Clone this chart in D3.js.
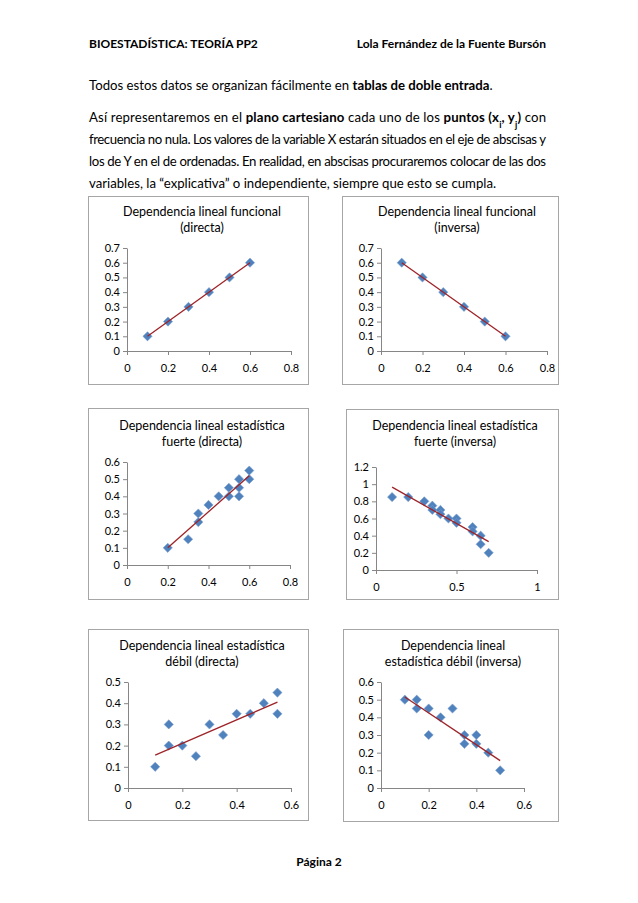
<!DOCTYPE html>
<html>
<head>
<meta charset="utf-8">
<script src="https://cdn.jsdelivr.net/npm/d3@7"></script>
<style>
  body { margin: 0; background: #fff; }
  svg { display: block; font-family: Lato, "Open Sans", sans-serif; }
</style>
</head>
<body>
<svg id="page" width="638" height="903"></svg>
<script>
const width = 638, height = 903;

// data
const titles = [
  ["Dependencia lineal funcional", "(directa)"],
  ["Dependencia lineal funcional", "(inversa)"],
  ["Dependencia lineal estadística", "fuerte (directa)"],
  ["Dependencia lineal estadística", "fuerte (inversa)"],
  ["Dependencia lineal estadística", "débil (directa)"],
  ["Dependencia lineal", "estadística débil (inversa)"]
];

const pts1 = [[0.1, 0.1], [0.2, 0.2], [0.3, 0.3], [0.4, 0.4], [0.5, 0.5], [0.6, 0.6]];
const pts2 = [[0.1, 0.6], [0.2, 0.5], [0.3, 0.4], [0.4, 0.3], [0.5, 0.2], [0.6, 0.1]];
const pts3 = [[0.2, 0.1], [0.3, 0.15], [0.35, 0.3], [0.35, 0.25], [0.4, 0.35], [0.45, 0.4],
  [0.5, 0.45], [0.5, 0.4], [0.55, 0.5], [0.55, 0.45], [0.55, 0.4], [0.6, 0.55], [0.6, 0.5]];
const pts4 = [[0.1, 0.85], [0.2, 0.85], [0.3, 0.8], [0.35, 0.75], [0.35, 0.7], [0.4, 0.7],
  [0.4, 0.65], [0.45, 0.6], [0.5, 0.6], [0.5, 0.55], [0.6, 0.5], [0.6, 0.45], [0.65, 0.4],
  [0.65, 0.3], [0.7, 0.2]];
const pts5 = [[0.1, 0.1], [0.15, 0.3], [0.15, 0.2], [0.2, 0.2], [0.25, 0.15], [0.3, 0.3],
  [0.35, 0.25], [0.4, 0.35], [0.45, 0.35], [0.5, 0.4], [0.55, 0.45], [0.55, 0.35]];
const pts6 = [[0.1, 0.5], [0.15, 0.5], [0.15, 0.45], [0.2, 0.45], [0.2, 0.3], [0.25, 0.4],
  [0.3, 0.45], [0.35, 0.3], [0.35, 0.25], [0.4, 0.3], [0.4, 0.25], [0.45, 0.2], [0.5, 0.1]];

// trend line end points (as drawn)
const trend1 = [[0.1, 0.1], [0.6, 0.6]];
const trend2 = [[0.1, 0.6], [0.6, 0.1]];
const trend3 = [[0.2, 0.1], [0.6, 0.52]];
const trend4 = [[0.1, 0.965], [0.7, 0.33]];
const trend5 = [[0.1, 0.155], [0.55, 0.405]];
const trend6 = [[0.1, 0.515], [0.5, 0.155]];

const xTicks1 = [0, 0.2, 0.4, 0.6, 0.8];
const yTicks1 = [0, 0.1, 0.2, 0.3, 0.4, 0.5, 0.6, 0.7];
const yTicks3 = [0, 0.1, 0.2, 0.3, 0.4, 0.5, 0.6];
const xTicks4 = [0, 0.5, 1];
const yTicks4 = [0, 0.2, 0.4, 0.6, 0.8, 1, 1.2];
const xTicks5 = [0, 0.2, 0.4, 0.6];
const yTicks5 = [0, 0.1, 0.2, 0.3, 0.4, 0.5];
const yTicks6 = [0, 0.1, 0.2, 0.3, 0.4, 0.5, 0.6];

const svg = d3.select("#page");

// header
svg.append("text").attr("x", 89).attr("y", 48)
  .attr("font-size", 12).attr("font-weight", "bold")
  .text("BIOESTADÍSTICA: TEORÍA PP2");
svg.append("text").attr("x", 546).attr("y", 48)
  .attr("font-size", 12).attr("font-weight", "bold").attr("text-anchor", "end")
  .text("Lola Fernández de la Fuente Bursón");

// body text; each line is a list of [text, bold, sub]
const lines = [
  { y: 90, justify: false, parts: [["Todos estos datos se organizan fácilmente en ", false], ["tablas de doble entrada", true], [".", false]] },
  { y: 122, justify: true, parts: [["Así representaremos en el ", false], ["plano cartesiano", true], [" cada uno de los ", false],
    ["puntos (x", true], ["i", true, true], [", y", true], ["j", true, true], [")", true], [" con", false]] },
  { y: 144, justify: true, parts: [["frecuencia no nula. Los valores de la variable X estarán situados en el eje de abscisas y", false]] },
  { y: 166, justify: true, parts: [["los de Y en el de ordenadas. En realidad, en abscisas procuraremos colocar de las dos", false]] },
  { y: 188, justify: false, parts: [["variables, la “explicativa” o independiente, siempre que esto se cumpla.", false]] }
];

lines.forEach(l => {
  const t = svg.append("text").attr("x", 89).attr("y", l.y).attr("font-size", 13.2);
  if (l.justify) t.attr("textLength", 457).attr("lengthAdjust", "spacing");
  l.parts.forEach(p => {
    const s = t.append("tspan").text(p[0]);
    if (p[1]) s.attr("font-weight", "bold");
    if (p[2]) s.attr("font-size", 9).attr("baseline-shift", "sub");
  });
});

// chart layout: box, plot area, scales
const charts = [
  { box: [88, 196, 220, 188], x: [127, 291], y: [351, 248], xd: [0, 0.8], yd: [0, 0.7], xt: xTicks1, yt: yTicks1, tx: 202, ty: 216, pts: pts1, tr: trend1 },
  { box: [342, 196, 216, 188], x: [381, 547], y: [351, 248], xd: [0, 0.8], yd: [0, 0.7], xt: xTicks1, yt: yTicks1, tx: 457, ty: 216, pts: pts2, tr: trend2 },
  { box: [88, 408, 220, 191], x: [127, 290], y: [565, 462], xd: [0, 0.8], yd: [0, 0.6], xt: xTicks1, yt: yTicks3, tx: 202, ty: 430, pts: pts3, tr: trend3 },
  { box: [346, 409, 212, 190], x: [376, 537], y: [570, 467], xd: [0, 1], yd: [0, 1.2], xt: xTicks4, yt: yTicks4, tx: 455, ty: 430, pts: pts4, tr: trend4 },
  { box: [88, 629, 220, 191], x: [128, 291], y: [788, 682], xd: [0, 0.6], yd: [0, 0.5], xt: xTicks5, yt: yTicks5, tx: 202, ty: 650, pts: pts5, tr: trend5 },
  { box: [343, 629, 215, 192], x: [381, 524], y: [788, 682], xd: [0, 0.6], yd: [0, 0.6], xt: xTicks5, yt: yTicks6, tx: 453, ty: 650, pts: pts6, tr: trend6 }
];

const diamond = d3.symbol().type(d3.symbolDiamond2).size(54);

charts.forEach((c, i) => {
  const g = svg.append("g");
  g.append("rect")
    .attr("x", c.box[0] + 0.5).attr("y", c.box[1] + 0.5)
    .attr("width", c.box[2]).attr("height", c.box[3])
    .attr("fill", "#fff").attr("stroke", "#a6a6a6");

  const title = g.append("text").attr("text-anchor", "middle").attr("font-size", 12.5).attr("fill", "#000");
  titles[i].forEach((s, k) => {
    title.append("tspan").attr("x", c.tx).attr("y", c.ty + k * 15.5).text(s);
  });

  const x = d3.scaleLinear().domain(c.xd).range(c.x);
  const y = d3.scaleLinear().domain(c.yd).range(c.y);

  const xa = g.append("g").attr("transform", `translate(0,${c.y[0]})`)
    .call(d3.axisBottom(x).tickValues(c.xt).tickSize(4).tickSizeOuter(0).tickPadding(9).tickFormat(d3.format("")));
  const ya = g.append("g").attr("transform", `translate(${c.x[0]},0)`)
    .call(d3.axisLeft(y).tickValues(c.yt).tickSize(4).tickSizeOuter(0).tickPadding(3).tickFormat(d3.format("")));
  [xa, ya].forEach(a => {
    a.select(".domain").attr("stroke", "#868686");
    a.selectAll(".tick line").attr("stroke", "#868686");
    a.selectAll(".tick text").attr("font-family", "Lato, sans-serif").attr("font-size", 11).attr("fill", "#000");
  });

  g.selectAll(".pt").data(c.pts).join("path")
    .attr("class", "pt")
    .attr("d", diamond)
    .attr("transform", d => `translate(${x(d[0])},${y(d[1])})`)
    .attr("fill", "#4f81bd").attr("stroke", "#7a9fcf").attr("stroke-width", 0.6);

  g.append("path")
    .datum(c.tr)
    .attr("d", d3.line().x(d => x(d[0])).y(d => y(d[1])))
    .attr("fill", "none").attr("stroke", "#9e2328").attr("stroke-width", 1.3);
});

// footer
svg.append("text").attr("x", 319).attr("y", 866)
  .attr("font-size", 12).attr("font-weight", "bold").attr("text-anchor", "middle")
  .text("Página 2");
</script>
</body>
</html>
